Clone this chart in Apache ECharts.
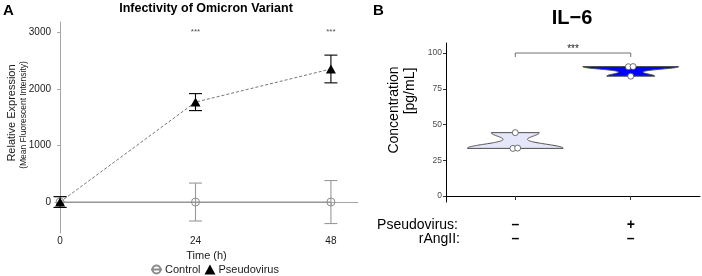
<!DOCTYPE html>
<html lang="en">
  <head>
    <meta charset="utf-8" />
    <title>Infectivity of Omicron Variant / IL-6</title>
    <style>
      * {
        margin: 0;
        padding: 0;
      }

      #chart-container {
        position: relative;
        width: 702px;
        height: 276px;
        overflow: hidden;
      }
    </style>
  </head>

  <body>
    <div id="chart-container"></div>
    <script src="https://fastly.jsdelivr.net/npm/echarts@6/dist/echarts.min.js"></script>
    <script>
      // panel A: infectivity over time
      var timeTicks = [0, 24, 48];
      var expTicks = [0, 1000, 2000, 3000];
      var timePoints = [0, 24, 48];
      var controlMean = [0, 0, 0];
      var controlErr = [95, 335, 380];
      var pseudoMean = [0, 1765, 2350];
      var pseudoErr = [95, 150, 245];
      var sigTimes = [24, 48];
      var sigLabels = ["***", "***"];
      var sigLevel = 3010;

      // panel B: IL-6 violins
      var groupPos = [1, 2];
      var pseudoRow = ["–", "+"];
      var angRow = ["–", "–"];
      var il6Mock = [33.3, 33.5, 44.3];
      var il6Pseudo = [83.8, 90.4, 90.5];
      var il6Ticks = [0, 25, 50, 75, 100];
      var bracketLevel = 100;
      var bracketLabel = "***";

      var FONT = "Liberation Sans, Arial, sans-serif";

      var dom = document.getElementById("chart-container");
      var myChart = echarts.init(dom, null, { renderer: "canvas" });

      // gaussian kde with R's bw.nrd0, trimmed to the data range (like geom_violin)
      function bwNrd0(x) {
        var n = x.length;
        var mean = x.reduce(function (a, b) { return a + b; }, 0) / n;
        var sd = Math.sqrt(
          x.reduce(function (a, b) { return a + (b - mean) * (b - mean); }, 0) / (n - 1)
        );
        var s = x.slice().sort(function (a, b) { return a - b; });
        function q(p) {
          var h = (n - 1) * p, lo = Math.floor(h), hi = Math.ceil(h);
          return s[lo] + (h - lo) * (s[hi] - s[lo]);
        }
        var iqr = (q(0.75) - q(0.25)) / 1.34;
        return 0.9 * Math.min(sd, iqr) * Math.pow(n, -0.2);
      }

      function violinProfile(x) {
        var bw = bwNrd0(x);
        var mn = Math.min.apply(null, x), mx = Math.max.apply(null, x);
        var prof = [], top = 0;
        for (var i = 0; i <= 80; i++) {
          var y = mn + ((mx - mn) * i) / 80;
          var d = 0;
          x.forEach(function (v) {
            d += Math.exp(-0.5 * Math.pow((y - v) / bw, 2));
          });
          prof.push([y, d]);
          top = Math.max(top, d);
        }
        return prof.map(function (p) { return [p[0], p[1] / top]; });
      }

      var groups = [
        { pos: groupPos[0], values: il6Mock, fill: "#e6e6fa" },
        { pos: groupPos[1], values: il6Pseudo, fill: "#0000ff" },
      ];
      groups.forEach(function (g) { g.profile = violinProfile(g.values); });

      // dot positions: equal values sit side by side (centre stacked)
      var dots = [];
      groups.forEach(function (g) {
        var s = g.values.slice().sort(function (a, b) { return a - b; });
        var bins = [];
        s.forEach(function (v) {
          var last = bins[bins.length - 1];
          if (last && Math.abs(v - last[0]) < 0.6) last.push(v);
          else bins.push([v]);
        });
        bins.forEach(function (b) {
          b.forEach(function (v, k) {
            dots.push([g.pos, v, k - (b.length - 1) / 2]);
          });
        });
      });

      function errorBars(means, errs, color) {
        return {
          type: "custom",
          xAxisIndex: 0,
          yAxisIndex: 0,
          z: 2,
          data: timePoints.map(function (t, i) {
            return [t, means[i] - errs[i], means[i] + errs[i]];
          }),
          renderItem: function (params, api) {
            var lo = api.coord([api.value(0), api.value(1)]);
            var hi = api.coord([api.value(0), api.value(2)]);
            var w = 6.5;
            var style = { stroke: color, lineWidth: 1.1, fill: null };
            return {
              type: "group",
              children: [
                { type: "line", shape: { x1: lo[0], y1: lo[1], x2: hi[0], y2: hi[1] }, style: style },
                { type: "line", shape: { x1: lo[0] - w, y1: lo[1], x2: lo[0] + w, y2: lo[1] }, style: style },
                { type: "line", shape: { x1: hi[0] - w, y1: hi[1], x2: hi[0] + w, y2: hi[1] }, style: style },
              ],
            };
          },
        };
      }

      var option = {
        animation: false,
        backgroundColor: "#ffffff",
        textStyle: { fontFamily: FONT },
        grid: [
          { left: 55, top: 22, width: 303, height: 211 },
          { left: 446, top: 43, width: 254, height: 159 },
        ],
        xAxis: [
          {
            gridIndex: 0,
            type: "value",
            min: -0.9,
            max: 52.8,
            splitLine: { show: false },
            axisLine: { lineStyle: { color: "#a6a6a6", width: 1 } },
            axisTick: { customValues: timeTicks, length: 3, lineStyle: { color: "#a6a6a6" } },
            axisLabel: { customValues: timeTicks, color: "#1a1a1a", fontSize: 10, margin: 3 },
            name: "Time (h)",
            nameLocation: "middle",
            nameGap: 12,
            nameTextStyle: { color: "#1a1a1a", fontSize: 11 },
          },
          {
            gridIndex: 1,
            type: "value",
            min: 0.4,
            max: 2.6,
            splitLine: { show: false },
            axisLine: { lineStyle: { color: "#000000", width: 1 } },
            axisTick: { customValues: groupPos, length: 4, lineStyle: { color: "#333" } },
            axisLabel: {
              customValues: groupPos,
              color: "#000000",
              fontSize: 14,
              lineHeight: 14,
              margin: 16,
              fontWeight: "bold",
              formatter: function (v) {
                var i = groupPos.indexOf(v);
                return pseudoRow[i] + "\n" + angRow[i];
              },
            },
          },
        ],
        yAxis: [
          {
            gridIndex: 0,
            type: "value",
            min: -547,
            max: 3180,
            splitLine: { show: false },
            axisLine: { show: true, lineStyle: { color: "#a6a6a6", width: 1 } },
            axisTick: { show: true, customValues: expTicks, length: 3, lineStyle: { color: "#a6a6a6" } },
            axisLabel: {
              customValues: expTicks,
              color: "#1a1a1a",
              fontSize: 10,
              margin: 4,
              formatter: function (v) { return String(v); },
            },
          },
          {
            gridIndex: 1,
            type: "value",
            min: -4.2,
            max: 107,
            splitLine: { show: false },
            axisLine: { show: true, lineStyle: { color: "#000000", width: 1 } },
            axisTick: { show: true, customValues: il6Ticks, length: 3, lineStyle: { color: "#333" } },
            axisLabel: { customValues: il6Ticks, color: "#4d4d4d", fontSize: 8.5, margin: 4 },
          },
        ],
        legend: {
          left: 150,
          top: 264,
          itemWidth: 11,
          itemHeight: 10,
          itemGap: 4,
          padding: 0,
          textStyle: { fontSize: 11, color: "#1a1a1a", padding: [0, 0, 0, -2] },
          data: [{ name: "Control" }, { name: "Pseudovirus", icon: "triangle" }],
        },
        graphic: [
          { type: "text", left: 3, top: 3, style: { text: "A", font: "bold 15px " + FONT, fill: "#000" } },
          { type: "text", left: 373, top: 3, style: { text: "B", font: "bold 15px " + FONT, fill: "#000" } },
          {
            type: "text",
            x: 206,
            y: 9,
            style: { text: "Infectivity of Omicron Variant", font: "bold 12.5px " + FONT, fill: "#000", align: "center", verticalAlign: "middle" },
          },
          {
            type: "text",
            x: 572,
            y: 18,
            style: { text: "IL−6", font: "bold 20px " + FONT, fill: "#000", align: "center", verticalAlign: "middle" },
          },
          {
            type: "text",
            x: 12,
            y: 113,
            rotation: Math.PI / 2,
            style: { text: "Relative Expression", font: "11px " + FONT, fill: "#1a1a1a", align: "center", verticalAlign: "middle" },
          },
          {
            type: "text",
            x: 23.5,
            y: 115,
            rotation: Math.PI / 2,
            style: { text: "(Mean Fluorescent Intensity)", font: "8.5px " + FONT, fill: "#1a1a1a", align: "center", verticalAlign: "middle" },
          },
          {
            type: "text",
            x: 394,
            y: 110,
            rotation: Math.PI / 2,
            style: { text: "Concentration", font: "14px " + FONT, fill: "#000", align: "center", verticalAlign: "middle" },
          },
          {
            type: "text",
            x: 410,
            y: 91,
            rotation: Math.PI / 2,
            style: { text: "[pg/mL]", font: "14px " + FONT, fill: "#000", align: "center", verticalAlign: "middle" },
          },
          {
            type: "text",
            x: 458,
            y: 225,
            style: { text: "Pseudovirus:", font: "14px " + FONT, fill: "#000", align: "right", verticalAlign: "middle" },
          },
          {
            type: "text",
            x: 460,
            y: 239,
            style: { text: "rAngII:", font: "14px " + FONT, fill: "#000", align: "right", verticalAlign: "middle" },
          },
        ],
        series: [
          errorBars(controlMean, controlErr, "#999999"),
          errorBars(pseudoMean, pseudoErr, "#000000"),
          {
            name: "Control",
            type: "line",
            xAxisIndex: 0,
            yAxisIndex: 0,
            z: 3,
            data: timePoints.map(function (t, i) { return [t, controlMean[i]]; }),
            symbol: "circle",
            symbolSize: 8,
            lineStyle: { color: "#8c8c8c", width: 1 },
            itemStyle: { color: "rgba(0,0,0,0)", borderColor: "#8c8c8c", borderWidth: 1 },
          },
          {
            name: "Pseudovirus",
            type: "line",
            xAxisIndex: 0,
            yAxisIndex: 0,
            z: 4,
            data: timePoints.map(function (t, i) { return [t, pseudoMean[i]]; }),
            symbol: "triangle",
            symbolSize: [10, 9],
            lineStyle: { color: "#666666", width: 0.9, type: [3, 2] },
            itemStyle: { color: "#000000" },
          },
          {
            type: "scatter",
            xAxisIndex: 0,
            yAxisIndex: 0,
            symbolSize: 0,
            data: sigTimes.map(function (t, i) { return [t, sigLevel, sigLabels[i]]; }),
            label: {
              show: true,
              position: "inside",
              fontSize: 8,
              color: "#1a1a1a",
              formatter: function (p) { return p.value[2]; },
            },
          },
          {
            type: "custom",
            xAxisIndex: 1,
            yAxisIndex: 1,
            z: 2,
            data: groups.map(function (g, i) { return [g.pos, i]; }),
            renderItem: function (params, api) {
              var g = groups[params.dataIndex];
              var half = 0.415;
              var left = [], right = [];
              g.profile.forEach(function (p) {
                left.push(api.coord([g.pos - half * p[1], p[0]]));
                right.unshift(api.coord([g.pos + half * p[1], p[0]]));
              });
              return {
                type: "polygon",
                shape: { points: left.concat(right) },
                style: { fill: g.fill, stroke: "#4d4d4d", lineWidth: 1 },
              };
            },
          },
          {
            type: "custom",
            xAxisIndex: 1,
            yAxisIndex: 1,
            z: 3,
            data: dots,
            renderItem: function (params, api) {
              var c = api.coord([api.value(0), api.value(1)]);
              return {
                type: "circle",
                shape: { cx: c[0] + api.value(2) * 4.7, cy: c[1], r: 3 },
                style: { fill: "#ffffff", stroke: "#4d4d4d", lineWidth: 0.8 },
              };
            },
          },
          {
            type: "custom",
            xAxisIndex: 1,
            yAxisIndex: 1,
            z: 3,
            data: [[groupPos[0], groupPos[1], bracketLevel]],
            renderItem: function (params, api) {
              var a = api.coord([api.value(0), api.value(2)]);
              var b = api.coord([api.value(1), api.value(2)]);
              return {
                type: "group",
                children: [
                  {
                    type: "polyline",
                    shape: { points: [[a[0], a[1] + 4], a, b, [b[0], b[1] + 4]] },
                    style: { stroke: "#4d4d4d", lineWidth: 0.8, fill: null },
                  },
                  {
                    type: "text",
                    style: {
                      text: bracketLabel,
                      x: (a[0] + b[0]) / 2,
                      y: a[1] - 4,
                      align: "center",
                      verticalAlign: "middle",
                      font: "10px " + FONT,
                      fill: "#1a1a1a",
                    },
                  },
                ],
              };
            },
          },
        ],
      };

      myChart.setOption(option);
      window.addEventListener("resize", myChart.resize);
    </script>
  </body>
</html>
